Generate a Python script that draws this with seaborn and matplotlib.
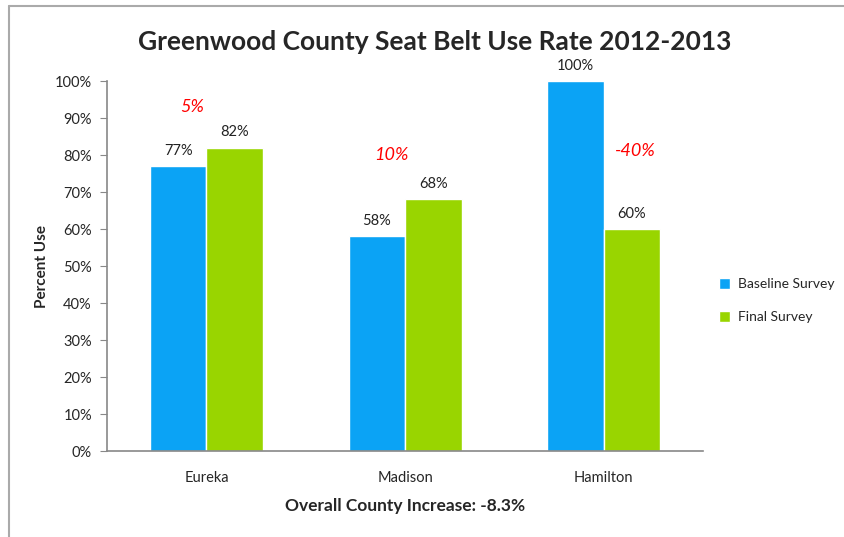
import numpy as np
import pandas as pd
import seaborn as sns
import matplotlib.pyplot as plt
import matplotlib.ticker as mtick
from matplotlib.lines import Line2D

# data
counties = ['Eureka', 'Madison', 'Hamilton']
baseline = [77, 58, 100]
final = [82, 68, 60]
changes = ['5%', '10%', '-40%']
change_off = [-0.07, -0.07, 0.16]   # offset of the red change labels from the category centre
change_y = [93, 80, 81]
surveys = ['Baseline Survey', 'Final Survey']

df = pd.DataFrame({'county': counties * 2,
                   'survey': [surveys[0]] * 3 + [surveys[1]] * 3,
                   'rate': baseline + final})

sns.set_style('white')
plt.rcParams['font.family'] = ['Lato', 'DejaVu Sans']

fig = plt.figure(figsize=(8.44, 5.37), dpi=100)
ax = fig.add_axes([0.127, 0.160, 0.706, 0.689])

palette = {'Baseline Survey': '#0ba3f5', 'Final Survey': '#99d500'}
sns.barplot(data=df, x='county', y='rate', hue='survey', palette=palette,
            width=0.57, saturation=1, ax=ax, gap=0)

for cont in ax.containers:
    ax.bar_label(cont, fmt='%g%%', padding=6, fontsize=10.5, color='#222222')

for i, (off, cy, txt) in enumerate(zip(change_off, change_y, changes)):
    ax.text(i + off, cy, txt, color='red', fontstyle='italic', fontsize=13,
            ha='center', va='center')

ax.set_ylim(0, 100)
ax.set_xlim(-0.5, 2.5)
ax.set_yticks(np.arange(0, 101, 10))
ax.yaxis.set_major_formatter(mtick.PercentFormatter(decimals=0))
ax.tick_params(axis='y', length=5, color='#888888', labelsize=10.5, pad=6, left=True)
ax.tick_params(axis='x', length=0, labelsize=10.5, pad=14)
sns.despine(ax=ax)
for s in ['left', 'bottom']:
    ax.spines[s].set_color('#888888')
    ax.spines[s].set_linewidth(1.2)

ax.set_ylabel('Percent Use', fontsize=11, fontweight='bold', labelpad=4)
ax.set_xlabel('Overall County Increase: -8.3%', fontsize=12.5, fontweight='bold', labelpad=10)
fig.suptitle('Greenwood County Seat Belt Use Rate 2012-2013', fontsize=19,
             fontweight='bold', x=0.515, y=0.945)

ax.legend(loc='center left', bbox_to_anchor=(0.845, 0.44), bbox_transform=fig.transFigure,
          frameon=False, fontsize=10, handlelength=0.8, handleheight=0.8,
          labelspacing=1.5, handletextpad=0.6, borderaxespad=0)

# grey frame lines at top and left like the original
fig.add_artist(Line2D([0.011, 1.0], [0.989, 0.989], color='#aaaaaa', lw=1.5))
fig.add_artist(Line2D([0.011, 0.011], [0.0, 0.989], color='#aaaaaa', lw=1.5))

plt.savefig('out.png', dpi=100)
